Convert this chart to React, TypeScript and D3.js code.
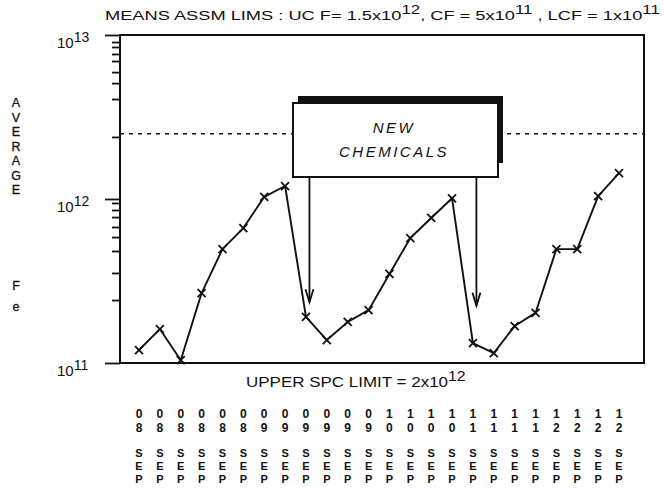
import React, { useEffect, useRef } from 'react';
import * as d3 from 'd3';

// average Fe per sample
const feValues = [
  1.2e11, 1.61e11, 1.04e11, 2.67e11, 4.95e11, 6.65e11, 1.03e12, 1.2e12,
  1.91e11, 1.38e11, 1.78e11, 2.1e11, 3.49e11, 5.78e11, 7.66e11, 1.01e12,
  1.32e11, 1.15e11, 1.68e11, 2.02e11, 4.95e11, 4.95e11, 1.04e12, 1.44e12,
];
const dayCodes = [
  '08', '08', '08', '08', '08', '08', '09', '09', '09', '09', '09', '09',
  '10', '10', '10', '10', '11', '11', '11', '11', '12', '12', '12', '12',
];
const monthCodes = dayCodes.map(() => 'SEP');
const majorTicks = [1e11, 1e12, 1e13];
// hand drawn minor ticks, not quite where a log axis puts them
const minorTicks = [
  2.42e11, 3.54e11, 4.82e11, 5.86e11, 6.75e11, 7.76e11, 8.57e11, 9.46e11,
  2.39e12, 4.07e12, 5.09e12, 5.94e12, 6.94e12, 7.66e12, 8.45e12, 9.06e12,
];
const upperLimit = 2.5e12;
const chemicalChanges = [8, 16];
const arrowTips = [2.1e11, 2.0e11];

const FONT = '"Liberation Sans", Arial, Helvetica, sans-serif';

export default function App() {
  const svgRef = useRef<SVGSVGElement>(null);

  useEffect(() => {
    const svg = d3.select(svgRef.current);
    svg.selectAll('*').remove();

    const frame = { left: 120, right: 644, top: 35, bottom: 363 };

    const x = d3.scalePoint<number>().domain(d3.range(feValues.length)).range([139, 619]);
    const y = d3.scaleLog().domain([1e11, 1e13]).range([frame.bottom, frame.top]);

    svg.append('rect').attr('width', 664).attr('height', 496).attr('fill', '#fff');

    // fit a text element to a given left/right span
    const fit = (t: any, x0: number, x1: number) => {
      const bb = (t.node() as SVGTextElement).getBBox();
      const k = (x1 - x0) / bb.width;
      t.attr('transform', `translate(${x0},0) scale(${k},1) translate(${-bb.x},0)`);
    };
    const powText = (parent: any, parts: [string, boolean][], px: number, py: number, size: number) => {
      const t = parent.append('text').attr('x', px).attr('y', py)
        .attr('font-family', FONT).attr('font-size', size).attr('fill', '#111');
      let up = false;
      parts.forEach(([s, sup]) => {
        const ts = t.append('tspan').text(s);
        if (sup && !up) { ts.attr('dy', -6).attr('font-size', size - 1); up = true; }
        else if (!sup && up) { ts.attr('dy', 6); up = false; }
      });
      return t;
    };
    // one text element, one letter per line
    const stacked = (word: string, px: number, py: number, step: number) => {
      const t = svg.append('text').attr('x', px).attr('y', py).attr('text-anchor', 'middle')
        .attr('font-family', FONT).attr('font-size', 12.5).attr('fill', '#111')
        .attr('stroke', '#111').attr('stroke-width', 0.3);
      word.split('').forEach((c, i) => {
        t.append('tspan').attr('x', px).attr('dy', i === 0 ? 0 : step).text(c);
      });
    };

    // title
    const title = powText(svg, [
      ['MEANS ASSM LIMS : UC F= 1.5x10', false], ['12', true],
      [', CF = 5x10', false], ['11', true],
      [' , LCF = 1x10', false], ['11', true],
    ], 0, 20, 13);
    fit(title, 105, 661);

    // dashed upper limit
    svg.append('line')
      .attr('x1', frame.left).attr('x2', frame.right)
      .attr('y1', y(upperLimit)).attr('y2', y(upperLimit))
      .attr('stroke', '#111').attr('stroke-width', 1.6).attr('stroke-dasharray', '4,5');

    // frame
    svg.append('rect')
      .attr('x', frame.left).attr('y', frame.top)
      .attr('width', frame.right - frame.left).attr('height', frame.bottom - frame.top)
      .attr('fill', 'none').attr('stroke', '#111').attr('stroke-width', 2);

    // y axis ticks
    const gMinor = svg.append('g').attr('transform', `translate(${frame.left},0)`)
      .call(d3.axisLeft(y).tickValues(minorTicks).tickSize(8).tickFormat(() => ''));
    const gMajor = svg.append('g').attr('transform', `translate(${frame.left},0)`)
      .call(d3.axisLeft(y).tickValues(majorTicks).tickSize(15).tickFormat(() => ''));
    [gMinor, gMajor].forEach(g => {
      g.select('.domain').remove();
      g.selectAll('line').attr('stroke', '#111').attr('stroke-width', 1.8);
    });
    majorTicks.forEach(v => {
      powText(svg, [['10', false], [String(Math.round(Math.log10(v))), true]], 57, y(v) + 13, 15);
    });

    // y title, letters stacked
    stacked('AVERAGE', 16, 107, 14.5);
    stacked('Fe', 16, 290, 21);

    // series
    const line = d3.line<number>().x((d, i) => x(i)!).y(d => y(d));
    svg.append('path').datum(feValues).attr('d', line)
      .attr('fill', 'none').attr('stroke', '#111').attr('stroke-width', 1.9).attr('stroke-linejoin', 'round');
    const m = 4;
    svg.append('g').selectAll('path').data(feValues).enter().append('path')
      .attr('d', (d, i) => {
        const px = x(i)!, py = y(d);
        return `M${px - m},${py - m}L${px + m},${py + m}M${px + m},${py - m}L${px - m},${py + m}`;
      })
      .attr('stroke', '#111').attr('stroke-width', 1.8);

    // NEW CHEMICALS note
    const box = { x: 293, y: 103, w: 205, h: 74 };
    svg.append('rect').attr('x', box.x + 5).attr('y', box.y - 7).attr('width', box.w).attr('height', box.h - 7)
      .attr('fill', '#111');
    svg.append('rect').attr('x', box.x).attr('y', box.y).attr('width', box.w).attr('height', box.h)
      .attr('fill', '#fff').attr('stroke', '#111').attr('stroke-width', 2);
    [['NEW', 133], ['CHEMICALS', 157]].forEach(([s, by]) => {
      svg.append('text').attr('x', 394).attr('y', by as number).attr('text-anchor', 'middle')
        .attr('font-family', FONT).attr('font-style', 'italic').attr('font-size', 15)
        .attr('letter-spacing', 2.5).attr('fill', '#111').text(s as string);
    });
    chemicalChanges.forEach((idx, k) => {
      const ax = x(idx)! + 3.5;
      const ty = y(arrowTips[k]) - 8;
      svg.append('line').attr('x1', ax).attr('x2', ax).attr('y1', box.y + box.h).attr('y2', ty)
        .attr('stroke', '#111').attr('stroke-width', 1.8);
      svg.append('path').attr('d', `M${ax - 4},${ty - 13}L${ax},${ty}L${ax + 4},${ty - 13}`)
        .attr('fill', 'none').attr('stroke', '#111').attr('stroke-width', 1.8);
    });

    // caption under the frame
    const cap = powText(svg, [['UPPER SPC LIMIT = 2x10', false], ['12', true]], 0, 387, 15);
    fit(cap, 246, 466);

    // sample labels
    const labels = svg.append('g').attr('font-family', FONT).attr('font-size', 12)
      .attr('text-anchor', 'middle').attr('fill', '#111');
    dayCodes.forEach((code, i) => {
      const cx = x(i)!;
      labels.append('text').attr('x', cx).attr('y', 418).attr('font-weight', 'bold').text(code[0]);
      labels.append('text').attr('x', cx).attr('y', 432).attr('font-weight', 'bold').text(code[1]);
      monthCodes[i].split('').forEach((c, j) => {
        labels.append('text').attr('x', cx).attr('y', 457 + j * 13).attr('font-weight', 'bold')
          .attr('font-size', 11).text(c);
      });
    });
  }, []);

  return (
    <svg ref={svgRef} width={664} height={496}
      style={{ position: 'absolute', left: 0, top: 0, display: 'block' }} />
  );
}
